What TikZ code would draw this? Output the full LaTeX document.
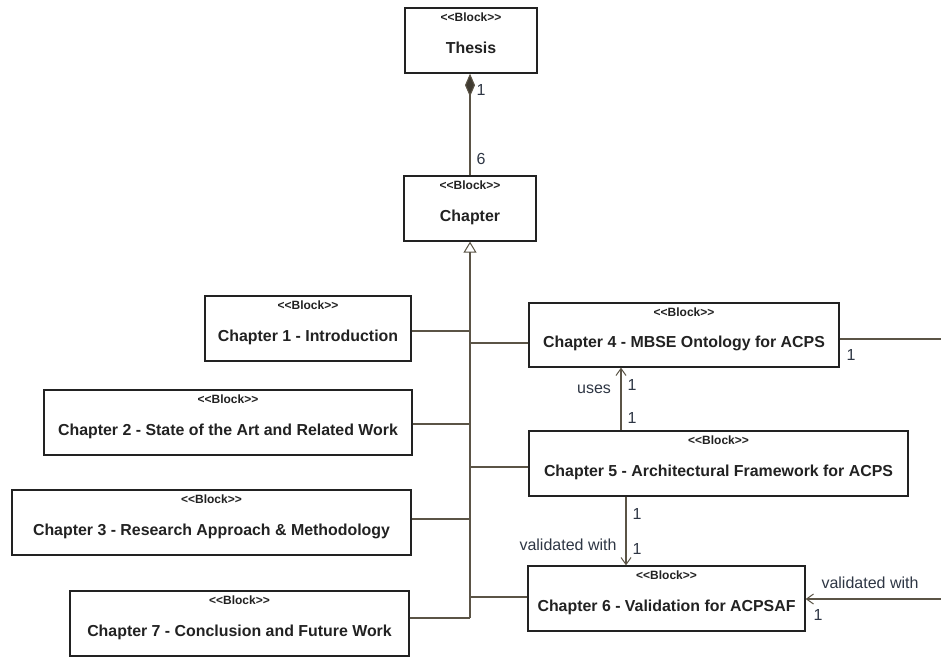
\documentclass[tikz,border=0pt]{standalone}
\usepackage{fontspec}
\setmainfont{Liberation Sans}
\newfontfamily\stfont[Ligatures=TeXOff]{Liberation Sans}
\usetikzlibrary{arrows.meta}
\definecolor{lineclr}{HTML}{5B5446}
\definecolor{boxclr}{HTML}{222222}
\definecolor{lblclr}{HTML}{2E3644}
\tikzset{
  stereo/.style={anchor=north, inner sep=0pt, yshift=-5pt,
    font=\stfont\fontsize{12}{12}\selectfont\bfseries, text=boxclr},
  blk/.style={draw=boxclr, line width=1.3pt, fill=white, rectangle,
    minimum height=65pt, inner sep=0pt, text=boxclr,
    font=\fontsize{15.9}{16}\selectfont\bfseries,
    text height=27pt, text depth=2pt,
    label={[stereo]north:{<<Block>>}}},
  conn/.style={draw=lineclr, line width=1.1pt},
  gen/.style={conn, -{Triangle[open, length=11pt, width=13pt, line width=1pt]}},
  comp/.style={conn, -{Diamond[length=23pt, width=10pt, fill=lineclr!70!black]}},
  dep/.style={conn, -{Straight Barb[length=7pt, width=10pt, line width=1pt]}},
  lbl/.style={inner sep=0pt, text=lblclr, font=\fontsize{16}{16}\selectfont},
}
\begin{document}
\begin{tikzpicture}[x=1pt, y=-1pt]
\useasboundingbox (0,0) rectangle (941,657);

% blocks
\node[blk, minimum width=132pt] (thesis)  at (471,40.5)  {Thesis};
\node[blk, minimum width=132pt] (chapter) at (470,208.5) {Chapter};
\node[blk, minimum width=206pt] (ch1) at (308,328.5)   {Chapter 1 - Introduction};
\node[blk, minimum width=368pt] (ch2) at (228,422.5)   {Chapter 2 - State of the Art and Related Work};
\node[blk, minimum width=399pt] (ch3) at (211.5,522.5) {Chapter 3 - Research Approach \& Methodology};
\node[blk, minimum width=339pt] (ch7) at (239.5,623.5) {Chapter 7 - Conclusion and Future Work};
\node[blk, minimum width=310pt, minimum height=64pt] (ch4) at (684,335) {Chapter 4 - MBSE Ontology for ACPS};
\node[blk, minimum width=379pt] (ch5) at (718.5,463.5) {Chapter 5 - Architectural Framework for ACPS};
\node[blk, minimum width=277pt] (ch6) at (666.5,598.5) {Chapter 6 - Validation for ACPSAF};

% helper points
\coordinate (tb) at (470,618);
\coordinate (r4) at (941,339);
\coordinate (u)  at (621,400);
\coordinate (v)  at (626,530);
\coordinate (r6) at (941,599);

% composition Thesis <>-- Chapter
\draw[comp] (chapter.north) -- (chapter.north |- thesis.south);
\node[lbl] (m1) at (481,90)  {1};
\node[lbl] (m6) at (481,159) {6};

% generalisation tree
\draw[gen] (tb) -- (tb |- chapter.south);
\draw[conn] ([yshift=-2.5pt]ch1.east) -- ([yshift=-2.5pt]ch1.east -| tb);
\draw[conn] ([yshift=-1.5pt]ch2.east) -- ([yshift=-1.5pt]ch2.east -| tb);
\draw[conn] ([yshift=3.5pt]ch3.east)  -- ([yshift=3.5pt]ch3.east -| tb);
\draw[conn] ([yshift=5.5pt]ch7.east)  -- (tb);
\draw[conn] ([yshift=-8pt]ch4.west)   -- ([yshift=-8pt]ch4.west -| tb);
\draw[conn] ([yshift=-3.5pt]ch5.west) -- ([yshift=-3.5pt]ch5.west -| tb);
\draw[conn] ([yshift=1.5pt]ch6.west)  -- ([yshift=1.5pt]ch6.west -| tb);

% Chapter 4 outgoing association
\draw[conn] (r4 -| ch4.east) -- (r4);
\node[lbl] (m4) at (851,355) {1};

% Chapter 5 uses Chapter 4
\draw[dep] (u |- ch5.north) -- (u |- ch4.south);
\node[lbl] (uses) at (594,389) {uses};
\node[lbl] (mu1) at (632,385) {1};
\node[lbl] (mu2) at (632,418) {1};

% Chapter 5 validated with Chapter 6
\draw[dep] (v |- ch5.south) -- (v |- ch6.north);
\node[lbl] (mv1) at (637,514) {1};
\node[lbl] (val1) at (568,545) {validated with};
\node[lbl] (mv2) at (637,549) {1};

% incoming validation on Chapter 6
\draw[dep] (r6) -- (r6 -| ch6.east);
\node[lbl] (val2) at (870,583) {validated with};
\node[lbl] (mv3) at (818,615) {1};
\end{tikzpicture}
\end{document}
